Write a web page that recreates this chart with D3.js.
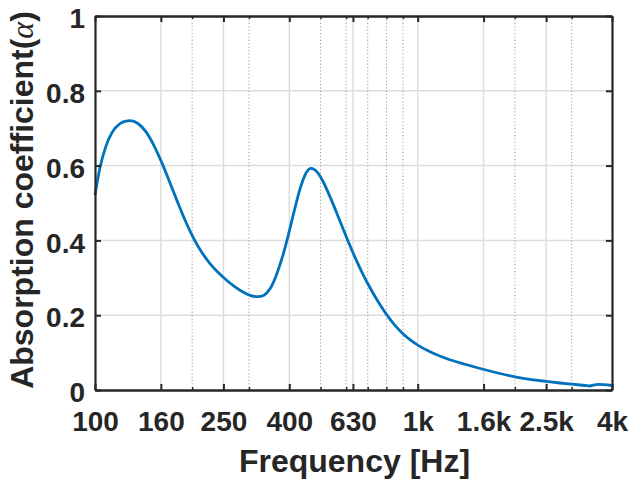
<!DOCTYPE html>
<html>
<head>
<meta charset="utf-8">
<script src="https://cdn.jsdelivr.net/npm/d3@7"></script>
<style>
  html, body { margin: 0; padding: 0; background: #fff; }
  svg { display: block; }
  text { font-family: "Liberation Sans", Arial, Helvetica, sans-serif; font-weight: bold; fill: #262626; }
</style>
</head>
<body>
<svg id="chart" width="634" height="486"></svg>
<script>
// ---- data ----
const freq  = [100, 103.6, 108.2, 112.9, 119.5, 124.8, 128.4, 135.9, 143.9, 152.3, 161.3, 170.8, 180.8, 191.4, 202.7, 214.6, 227.2, 240.5, 254.7, 269.6, 285.5, 302.2, 320.0, 334.0, 348.6, 363.9, 379.8, 396.4, 413.8, 431.9, 450.8, 467.1, 487.6, 508.9, 538.7, 570.4, 603.8, 639.3, 676.8, 716.5, 758.5, 803.1, 850.2, 900.1, 952.9, 1009, 1069, 1131, 1232, 1411, 1605, 1798, 2002, 2228, 2498, 2760, 3007, 3299, 3419, 3518, 3620, 3778, 4000];
const alpha = [0.5214, 0.5943, 0.6528, 0.6881, 0.7122, 0.7190, 0.7201, 0.7126, 0.6901, 0.6537, 0.6067, 0.5537, 0.4997, 0.4484, 0.4035, 0.3671, 0.3382, 0.3147, 0.2949, 0.2778, 0.2634, 0.2532, 0.2495, 0.2535, 0.2706, 0.3051, 0.3524, 0.4110, 0.4767, 0.5377, 0.5802, 0.5928, 0.5832, 0.5575, 0.5104, 0.4580, 0.4051, 0.3548, 0.3094, 0.2687, 0.2324, 0.2003, 0.1730, 0.1505, 0.1324, 0.1179, 0.1061, 0.0963, 0.0837, 0.0682, 0.0548, 0.0441, 0.0353, 0.0286, 0.0230, 0.0187, 0.0155, 0.0120, 0.0107, 0.0134, 0.0152, 0.0144, 0.0120];
const xTicks = [100, 160, 250, 400, 630, 1000, 1600, 2500, 4000];
const xTickLabels = ["100", "160", "250", "400", "630", "1k", "1.6k", "2.5k", "4k"];
const xMinor = [200, 300, 500, 600, 700, 800, 900, 2000, 3000];
const yTicks = [0, 0.2, 0.4, 0.6, 0.8, 1];
const yTickLabels = ["0", "0.2", "0.4", "0.6", "0.8", "1"];

const L = 95, R = 612, T = 16, B = 390;
const svg = d3.select("#chart");
const x = d3.scaleLog().domain([100, 4000]).range([L, R]);
const y = d3.scaleLinear().domain([0, 1]).range([B, T]);
const ink = "#262626";

// grid
const grid = svg.append("g");
grid.selectAll(".gy").data(yTicks.slice(1, -1)).join("line")
  .attr("x1", L).attr("x2", R).attr("y1", d => y(d)).attr("y2", d => y(d))
  .attr("stroke", "#dddddd").attr("stroke-width", 1.5);
grid.selectAll(".gx").data(xTicks.slice(1, -1)).join("line")
  .attr("x1", d => x(d)).attr("x2", d => x(d)).attr("y1", T).attr("y2", B)
  .attr("stroke", "#dddddd").attr("stroke-width", 1.5);
grid.selectAll(".gm").data(xMinor).join("line")
  .attr("x1", d => x(d)).attr("x2", d => x(d)).attr("y1", T).attr("y2", B)
  .attr("stroke", "#9a9a9a").attr("stroke-width", 1).attr("stroke-dasharray", "1.2,2.2");

// curve
const pts = freq.map((f, i) => ({ f, a: alpha[i] }));
svg.append("path").datum(pts)
  .attr("fill", "none").attr("stroke", "#0072BD").attr("stroke-width", 2.8)
  .attr("stroke-linejoin", "round")
  .attr("d", d3.line().x(d => x(d.f)).y(d => y(d.a)).curve(d3.curveMonotoneX));

// axes
function styleAxis(g, sw) {
  g.selectAll(".domain").attr("stroke", ink).attr("stroke-width", 2.2);
  g.selectAll(".tick line").attr("stroke", ink).attr("stroke-width", sw);
  g.selectAll("text").attr("fill", ink).attr("font-size", 28)
    .attr("font-family", '"Liberation Sans", Arial, sans-serif').attr("font-weight", "bold");
}
const xb = svg.append("g").attr("transform", `translate(0,${B})`)
  .call(d3.axisBottom(x).tickValues(xTicks).tickFormat((d, i) => xTickLabels[i]).tickSize(-6).tickSizeOuter(0).tickPadding(21));
styleAxis(xb, 2);
const xbm = svg.append("g").attr("transform", `translate(0,${B})`)
  .call(d3.axisBottom(x).tickValues(xMinor).tickFormat("").tickSize(-3).tickSizeOuter(0));
styleAxis(xbm, 1.5);
const xt = svg.append("g").attr("transform", `translate(0,${T})`)
  .call(d3.axisTop(x).tickValues(xTicks).tickFormat("").tickSize(-6).tickSizeOuter(0));
styleAxis(xt, 2);
const xtm = svg.append("g").attr("transform", `translate(0,${T})`)
  .call(d3.axisTop(x).tickValues(xMinor).tickFormat("").tickSize(-3).tickSizeOuter(0));
styleAxis(xtm, 1.5);
const yl = svg.append("g").attr("transform", `translate(${L},0)`)
  .call(d3.axisLeft(y).tickValues(yTicks).tickFormat((d, i) => yTickLabels[i]).tickSize(-6).tickSizeOuter(0).tickPadding(10));
styleAxis(yl, 2);
yl.selectAll("text").attr("dy", "0.42em");
const yr = svg.append("g").attr("transform", `translate(${R},0)`)
  .call(d3.axisRight(y).tickValues(yTicks).tickFormat("").tickSize(-6).tickSizeOuter(0));
styleAxis(yr, 2);

// labels
svg.append("text").attr("x", (L + R) / 2 + 1).attr("y", 472)
  .attr("text-anchor", "middle").attr("font-size", 32).text("Frequency [Hz]");
const yt = svg.append("text").attr("transform", `translate(33,${(T + B) / 2 - 3}) rotate(-90)`)
  .attr("text-anchor", "middle").attr("font-size", 32);
yt.append("tspan").text("Absorption coefficient(");
yt.append("tspan").attr("font-family", '"Liberation Serif", "Times New Roman", serif')
  .attr("font-style", "italic").attr("font-weight", "normal").text("α");
yt.append("tspan").text(")");
</script>
</body>
</html>
